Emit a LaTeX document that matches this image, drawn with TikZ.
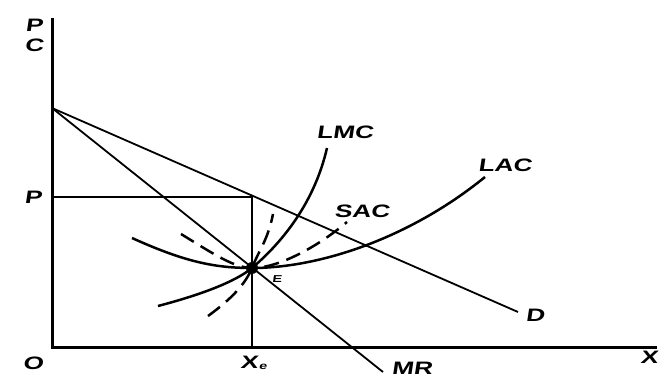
\documentclass[tikz,border=0pt]{standalone}
\usepackage{fontspec}
\newfontfamily\lab[FakeStretch=1.45,FakeSlant=0.15]{Liberation Sans}
\begin{document}
\begin{tikzpicture}[x=1pt,y=-1pt,
  axis/.style={line width=3pt},
  thin line/.style={line width=1.8pt},
  curve/.style={line width=2.5pt},
  dcurve/.style={line width=2.5pt,dash pattern=on 15pt off 8pt},
  lbl/.style={font=\lab\bfseries\fontsize{18}{18}\selectfont,inner sep=0pt}]
\useasboundingbox (0,0) rectangle (662,379);
% named points
\coordinate (top) at (52,18);
\coordinate (O) at (52,348);
\coordinate (xend) at (657,348);
\coordinate (A) at (52,108);
\coordinate (Dend) at (518,312);
\coordinate (MRend) at (383,372);
\coordinate (Pp) at (52,197);
\coordinate (Q) at (252,197);
\coordinate (Xe) at (252,348);
\coordinate (E) at (252,268);
% axes
\draw[axis] (top) -- (O) -- (xend);
% demand and MR
\draw[thin line] (A) -- (Dend);
\draw[thin line] (A) -- (MRend);
% price and quantity guides
\draw[thin line] (Pp) -- (Q) -- (Xe);
% LAC
\draw[curve] (132,238) .. controls (185,262) and (215,268) .. (E)
  .. controls (320,268) and (410,238) .. (485,177);
% LMC
\draw[curve] (158,306) .. controls (200,295) and (235,282) .. (E)
  .. controls (285,240) and (315,200) .. (327,148);
% SAC dashed
\draw[dcurve] (181,234) .. controls (215,255) and (235,268) .. (E)
  .. controls (280,268) and (320,245) .. (347,222);
% SMC dashed
\draw[dcurve] (208,316) .. controls (230,300) and (245,285) .. (E)
  .. controls (258,252) and (268,240) .. (273,214);
% equilibrium point
\fill (E) circle (6pt);
% labels
\node[lbl] (lP) at (34,25) {P};
\node[lbl] (lC) at (34,45) {C};
\node[lbl] (lP2) at (33,197) {P};
\node[lbl] (lO) at (33,363) {O};
\node[lbl] (lX) at (649,357) {X};
\node[lbl] (lXe) at (249,362) {X};
\node[font=\lab\bfseries\fontsize{10}{10}\selectfont,inner sep=0pt] (le) at (263,367) {e};
\node[lbl] (lMR) at (412,368) {MR};
\node[lbl] (lD) at (535,315) {D};
\node[lbl] (lLMC) at (345,132) {LMC};
\node[lbl] (lLAC) at (505,165) {LAC};
\node[lbl] (lSAC) at (362,211) {SAC};
\node[font=\lab\bfseries\fontsize{10}{10}\selectfont,inner sep=0pt] (lE) at (277,279) {E};
\end{tikzpicture}
\end{document}
